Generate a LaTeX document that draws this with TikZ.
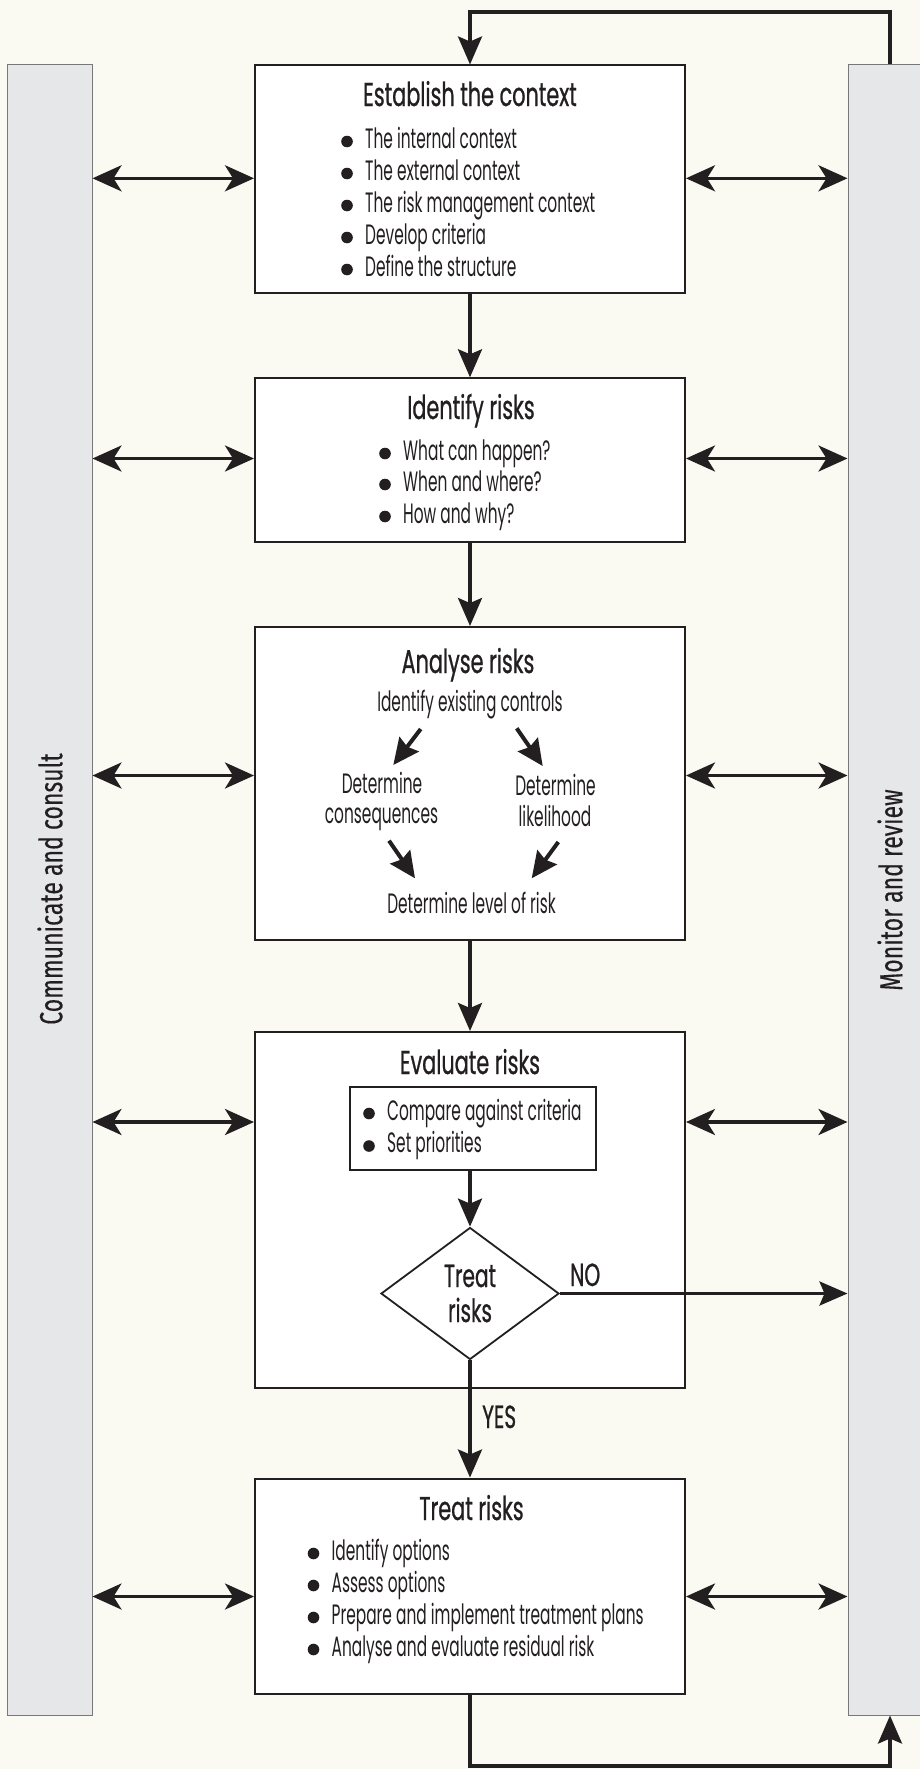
\documentclass[tikz,border=0pt]{standalone}
\usepackage{fontspec}
\setmainfont[FakeStretch=0.55]{Poppins}
\newfontfamily\ttlfam[FakeStretch=0.63,FakeBold=0.7]{Poppins}
\newfontfamily\sidefam[FakeStretch=0.72,FakeBold=0.3]{Fira Sans}
\usetikzlibrary{arrows.meta,shapes.geometric}
\definecolor{bgc}{RGB}{250,250,242}
\definecolor{panelfill}{RGB}{230,231,233}
\definecolor{panelborder}{RGB}{120,120,120}
\definecolor{linec}{RGB}{35,31,32}
\definecolor{textc}{RGB}{35,31,32}
\newcommand{\bodyf}{\fontsize{28pt}{32pt}\selectfont}
\newcommand{\ttlf}{\ttlfam\fontsize{33pt}{36pt}\selectfont}
\newcommand{\lblf}{\ttlfam\fontsize{32pt}{35pt}\selectfont}
\newcommand{\sidef}{\sidefam\fontsize{32pt}{36pt}\selectfont}
\newcommand{\bline}[4]{%
  \fill[textc] (#2-18,#3-6.5) circle[radius=5.8pt];
  \node[body] (#1) at (#2,#3) {#4};}
\tikzset{
  stepbox/.style={draw=linec, line width=2pt, fill=white, minimum width=430pt, anchor=north, inner sep=0pt},
  panel/.style={draw=panelborder, line width=1pt, fill=panelfill, inner sep=0pt},
  conn/.style={draw=linec, line width=3.5pt, -{Stealth[length=28pt,width=24pt,inset=5pt]}},
  dconn/.style={draw=linec, line width=3.5pt, {Stealth[length=29pt,width=26pt,inset=8pt]}-{Stealth[length=29pt,width=26pt,inset=8pt]}},
  sconn/.style={draw=linec, line width=4pt, -{Stealth[length=26pt,width=24pt,inset=3pt]}},
  body/.style={font=\bodyf, text=textc, inner sep=0pt, anchor=base west},
  cbody/.style={font=\bodyf, text=textc, inner sep=0pt, anchor=base},
  ttl/.style={font=\ttlf, text=textc, inner sep=0pt, anchor=base},
  lbl/.style={font=\lblf, text=textc, inner sep=0pt, anchor=base west},
  side/.style={font=\sidef, text=textc, inner sep=0pt, rotate=90},
}
\begin{document}
\begin{tikzpicture}[x=1pt,y=-1pt]
\useasboundingbox (0,0) rectangle (920,1769);
\clip (0,0) rectangle (920,1769);
\fill[bgc] (0,0) rectangle (920,1769);

% side panels
\node[panel, minimum width=85pt, minimum height=1650pt] (cc) at (49.5,890) {};
\node[panel, minimum width=84pt, minimum height=1650pt] (mr) at (890,890) {};
\node[side] (cct) at (50,889) {Communicate and consult};
\node[side] (mrt) at (890,890) {Monitor and review};

% main boxes
\node[stepbox, minimum height=227.5pt] (b1) at (470,64.5) {};
\node[stepbox, minimum height=163.4pt] (b2) at (470,377.3) {};
\node[stepbox, minimum height=313pt] (b3) at (470,626) {};
\node[stepbox, minimum height=355.5pt] (b4) at (470,1031) {};
\node[stepbox, minimum height=215.8pt] (b5) at (470,1477.5) {};

% box 1
\node[ttl] (t1) at (470,106) {Establish the context};
\bline{e1}{365}{148}{The internal context}
\bline{e2}{365}{180}{The external context}
\bline{e3}{365}{212}{The risk management context}
\bline{e4}{365}{244}{Develop criteria}
\bline{e5}{365}{276}{Define the structure}

% box 2
\node[ttl] (t2) at (471,419) {Identify risks};
\bline{i1}{403}{460}{What can happen?}
\bline{i2}{403}{491}{When and where?}
\bline{i3}{403}{523}{How and why?}

% box 3
\node[ttl] (t3) at (468,673) {Analyse risks};
\node[cbody] (iec) at (470,711.5) {Identify existing controls};
\node[cbody] (dc1) at (382,793) {Determine};
\node[cbody] (dc2) at (381.5,823) {consequences};
\node[cbody] (dl1) at (555.5,795) {Determine};
\node[cbody] (dl2) at (555,826) {likelihood};
\node[cbody] (dlr) at (471.5,913) {Determine level of risk};
\coordinate (a1s) at (420.7,729);   \coordinate (a1e) at (393.3,765);
\coordinate (a2s) at (516.7,728.3); \coordinate (a2e) at (542.7,766);
\coordinate (a3s) at (389,840.7);   \coordinate (a3e) at (415,878.3);
\coordinate (a4s) at (558.3,842);   \coordinate (a4e) at (531.7,878.3);
\draw[sconn] (a1s) -- (a1e);
\draw[sconn] (a2s) -- (a2e);
\draw[sconn] (a3s) -- (a3e);
\draw[sconn] (a4s) -- (a4e);

% box 4
\node[ttl] (t4) at (470,1074) {Evaluate risks};
\node[draw=linec, line width=1.6pt, fill=white, minimum width=246pt, minimum height=83pt, inner sep=0pt] (ib) at (473,1128.5) {};
\bline{v1}{387}{1120}{Compare against criteria}
\bline{v2}{387}{1152.5}{Set priorities}
\node[diamond, draw=linec, line width=1.8pt, fill=white, minimum width=178pt, minimum height=132pt, inner sep=0pt, align=center, font=\lblf, text=textc] (dm) at (470,1293.5) {Treat\\[0pt]risks};
\node[lbl] (no) at (570,1286) {NO};
\node[lbl] (yes) at (482,1428) {YES};

% box 5
\node[ttl] (t5) at (471.5,1520) {Treat risks};
\bline{r1}{331.5}{1560}{Identify options}
\bline{r2}{331.5}{1592}{Assess options}
\bline{r3}{331.5}{1624}{Prepare and implement treatment plans}
\bline{r4}{331.5}{1656}{Analyse and evaluate residual risk}

% rows for the double arrows
\coordinate (y1) at (0,178.3);
\coordinate (y2) at (0,458.5);
\coordinate (y3) at (0,775.5);
\coordinate (y4) at (0,1122);
\coordinate (y5) at (0,1596.5);
\foreach \b/\r in {b1/y1,b2/y2,b3/y3,b4/y4,b5/y5}{
  \draw[dconn] (cc.east |- \r) -- (\b.west |- \r);
  \draw[dconn] (\b.east |- \r) -- (mr.west |- \r);
}

% vertical flow
\draw[conn] (b1.south) -- (b2.north);
\draw[conn] (b2.south) -- (b3.north);
\draw[conn] (b3.south) -- (b4.north);
\draw[conn] (ib.south -| dm.north) -- (dm.north);
\draw[conn] (dm.south) -- (b5.north);
\draw[conn] (dm.east) -- (mr.west |- dm.east);

% loops
\coordinate (topy) at (0,12);
\coordinate (boty) at (0,1766);
\draw[conn] (mr.north) -- (mr.north |- topy) -- (b1.north |- topy) -- (b1.north);
\draw[conn] (b5.south) -- (b5.south |- boty) -- (mr.south |- boty) -- (mr.south);
\end{tikzpicture}
\end{document}
